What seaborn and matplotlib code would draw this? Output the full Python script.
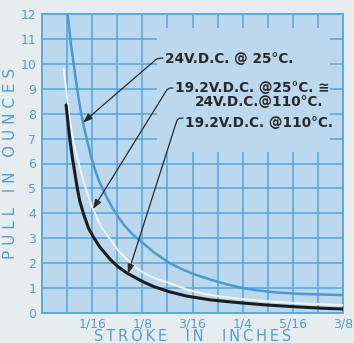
import numpy as np
import pandas as pd
import matplotlib
matplotlib.use("Agg")
import matplotlib.pyplot as plt
import seaborn as sns
from matplotlib.patches import Rectangle

# ---------------- data ----------------
blue_x = [0.032, 0.034, 0.036, 0.039, 0.042, 0.045, 0.048, 0.052, 0.056, 0.061,
          0.066, 0.071, 0.076, 0.083, 0.090, 0.095, 0.103, 0.113, 0.126, 0.140,
          0.159, 0.175, 0.190, 0.209, 0.230, 0.250, 0.270, 0.290, 0.320, 0.350, 0.375]
blue_y = [12.0, 11.4, 10.8, 10.1, 9.4, 8.75, 8.15, 7.5, 6.95, 6.3,
          5.75, 5.3, 4.95, 4.5, 4.1, 3.85, 3.5, 3.15, 2.8, 2.42,
          2.0, 1.75, 1.55, 1.35, 1.15, 1.0, 0.9, 0.83, 0.77, 0.74, 0.72]

white_x = [0.027, 0.030, 0.0325, 0.035, 0.039, 0.043, 0.049, 0.056, 0.062, 0.068,
           0.074, 0.085, 0.095, 0.106, 0.116, 0.126, 0.140, 0.159, 0.180, 0.200,
           0.225, 0.250, 0.280, 0.321, 0.350, 0.375]
white_y = [9.8, 9.0, 8.3, 7.7, 6.9, 6.35, 5.6, 4.85, 4.3, 3.85,
           3.45, 2.95, 2.5, 2.15, 1.85, 1.62, 1.4, 1.2, 0.95, 0.78,
           0.65, 0.56, 0.47, 0.39, 0.35, 0.32]

black_x = [0.030, 0.0315, 0.033, 0.035, 0.038, 0.041, 0.044, 0.047, 0.052, 0.058,
           0.064, 0.072, 0.085, 0.095, 0.106, 0.126, 0.140, 0.159, 0.180, 0.209,
           0.230, 0.250, 0.280, 0.321, 0.350, 0.375]
black_y = [8.35, 7.9, 7.45, 6.9, 6.2, 5.6, 5.0, 4.5, 3.95, 3.4,
           3.05, 2.65, 2.15, 1.85, 1.6, 1.25, 1.05, 0.85, 0.68, 0.53,
           0.46, 0.40, 0.32, 0.24, 0.19, 0.16]

x_tick_values = [1/16, 2/16, 3/16, 4/16, 5/16, 6/16]
x_tick_labels = ["1/16", "1/8", "3/16", "1/4", "5/16", "3/8"]
y_tick_values = list(range(0, 13))

label_blue = "24V.D.C. @ 25°C."
label_white_1 = "19.2V.D.C. @25°C. ≅"
label_white_2 = "24V.D.C.@110°C."
label_black = "19.2V.D.C. @110°C."

# ---------------- style ----------------
fig_bg = "#e7ecef"
plot_bg = "#bcd8ee"
grid_c = "#5ca9e0"
blue_c = "#4a9ad6"
tick_c = "#4d9fd9"
ink = "#2a2a2a"

sns.set_theme(style="white")
plt.rcParams['font.family'] = ['DejaVu Sans']

df = pd.concat([
    pd.DataFrame({"stroke": blue_x, "pull": blue_y, "series": "blue"}),
    pd.DataFrame({"stroke": white_x, "pull": white_y, "series": "white"}),
    pd.DataFrame({"stroke": black_x, "pull": black_y, "series": "black"}),
])

fig = plt.figure(figsize=(3.54, 3.43), dpi=100, facecolor=fig_bg)
ax = fig.add_axes([42/354, 30/343, 301/354, 299/343])
ax.set_facecolor(plot_bg)
ax.set_axisbelow(True)

styles = {"blue": (blue_c, 1.8), "white": ("#f2f5f2", 1.4), "black": ("#1c1c1c", 2.2)}
for name, (col, lw) in styles.items():
    sns.lineplot(data=df[df["series"] == name], x="stroke", y="pull", color=col,
                 lw=lw, ax=ax, estimator=None, sort=True, legend=False, zorder=3)

ax.set_xlim(0, 0.375)
ax.set_ylim(0, 12)
ax.set_xticks(x_tick_values)
ax.set_xticklabels(x_tick_labels)
ax.set_xticks(np.arange(0, 0.376, 1/32), minor=True)
ax.set_yticks(y_tick_values)
ax.set_yticklabels([str(v) for v in y_tick_values])
ax.grid(which="both", color=grid_c, lw=1.2)
ax.tick_params(which="both", length=0, colors=tick_c, labelsize=9)
ax.tick_params(axis="x", pad=3)
ax.tick_params(axis="y", pad=4)
for s in ax.spines.values():
    s.set_color(grid_c)
    s.set_linewidth(1.4)

ts = "\u2009"
ax.set_xlabel(ts.join("STROKE") + "    " + ts.join("IN") + "    " + ts.join("INCHES"),
              color=tick_c, fontsize=10.5, labelpad=-1)
ax.set_ylabel(" ".join("PULL") + "   " + " ".join("IN") + "   " + " ".join("OUNCES"),
              color=tick_c, fontsize=11, labelpad=2)

# label box hiding the grid
ax.add_patch(Rectangle((0.1433, 6.46), 0.3588 - 0.1433, 11.44 - 6.46,
                       facecolor=plot_bg, edgecolor="none", zorder=1))

fs = 9.8
kw = dict(fontsize=fs, color=ink, va="center", ha="left", zorder=5, fontweight="bold")
ax.text(0.1532, 10.19, label_blue, **kw)
ax.text(0.1657, 9.03, label_white_1, **kw)
ax.text(0.1906, 8.47, label_white_2, **kw)
ax.text(0.1782, 7.62, label_black, **kw)

def leader(tip_x, curve_x, curve_y, start, corner):
    tip = (tip_x, float(np.interp(tip_x, curve_x, curve_y)))
    p_tip = ax.transData.transform(tip)
    p_cor = ax.transData.transform(corner)
    angB = np.degrees(np.arctan2(p_cor[1] - p_tip[1], p_cor[0] - p_tip[0]))
    ax.annotate("", xy=tip, xytext=start,
                arrowprops=dict(arrowstyle="-|>,head_length=0.55,head_width=0.2",
                                color=ink, lw=0.9, shrinkA=0, shrinkB=0,
                                mutation_scale=10,
                                connectionstyle=f"angle,angleA=0,angleB={angB:.2f},rad=3"),
                zorder=4)

leader(0.0511, blue_x, blue_y, (0.1507, 10.23), (0.1440, 10.23))
leader(0.0636, white_x, white_y, (0.1632, 9.03), (0.1570, 9.03))
leader(0.1071, black_x, black_y, (0.1757, 7.82), (0.1690, 7.82))

fig.savefig("out.png", dpi=100, facecolor=fig_bg)
